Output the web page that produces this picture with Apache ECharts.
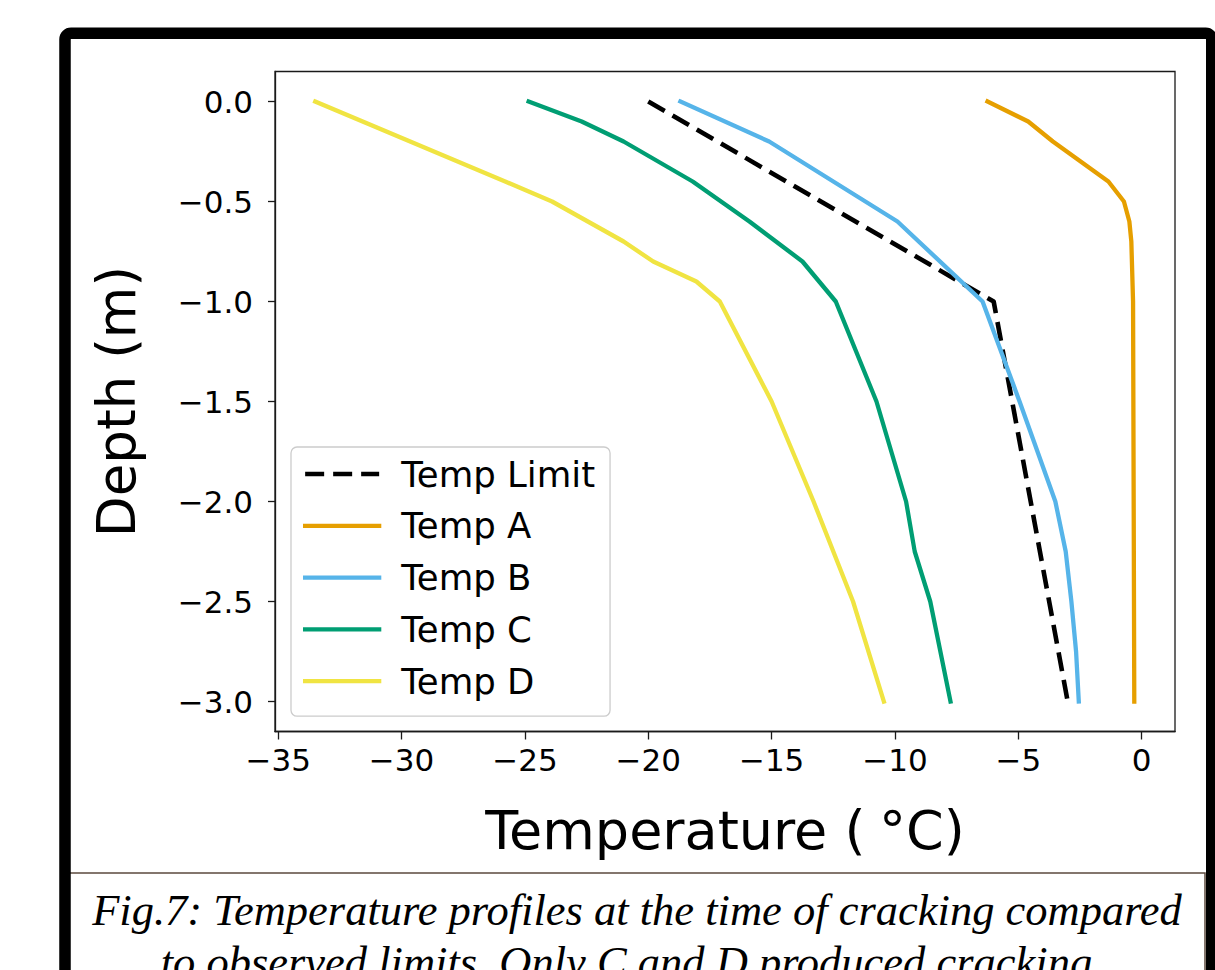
<!DOCTYPE html>
<html>
<head>
<meta charset="utf-8">
<script src="https://cdn.jsdelivr.net/npm/echarts@6/dist/echarts.min.js"></script>
<style>
html,body{margin:0;padding:0;background:#fff;}
#chart{width:1215px;height:970px;}
</style>
</head>
<body>
<div id="chart"></div>
<script>
// ---- data ----
const depths    = [0, -0.1, -0.2, -0.3, -0.4, -0.5, -0.6, -0.7, -0.8, -0.9, -1.0, -1.5, -2.0, -2.25, -2.5, -2.75, -3.0];
const tempLimit = [-20, null, null, null, null, null, null, null, null, null, -6, null, null, null, null, null, -3];
const tempA     = [-6.25, -4.6, -3.6, null, -1.35, -0.72, -0.5, -0.42, null, null, -0.35, null, null, null, null, null, -0.3];
const tempB     = [-18.7, null, -15.1, null, null, null, -9.9, null, null, null, -6.45, -4.95, -3.5, -3.08, -2.85, -2.66, -2.55];
const tempC     = [-24.85, -22.7, -21.0, null, -18.2, null, -15.9, null, -13.75, null, -12.4, -10.75, -9.55, -9.2, -8.57, null, -7.75];
const tempD     = [-33.5, null, null, null, -25.8, -23.9, null, -21.0, -19.8, -18.05, -17.1, -15.0, -13.3, null, -11.7, null, -10.45];
const seriesNames = ['Temp Limit', 'Temp A', 'Temp B', 'Temp C', 'Temp D'];
const xTicks = [-35, -30, -25, -20, -15, -10, -5, 0];
const yTicks = [0, -0.5, -1.0, -1.5, -2.0, -2.5, -3.0];
const xTitle = 'Temperature (\u2005°C)';
const yTitle = 'Depth (m)';
const captionLines = [
  'Fig.7: Temperature profiles at the time of cracking compared',
  'to observed limits. Only C and D produced cracking.'
];

function pairs(temps) {
  const out = [];
  temps.forEach((t, i) => { if (t !== null) out.push([t, depths[i]]); });
  return out;
}
const minus = s => s.replace('-', '\u2212');

const chart = echarts.init(document.getElementById('chart'), null, {renderer: 'svg'});
const font = 'DejaVu Sans';
const axisCol = '#1a1a1a';

function mkSeries(name, temps, color, dashed) {
  return {
    name: name,
    type: 'line',
    data: pairs(temps),
    symbol: 'none',
    showSymbol: false,
    silent: true,
    lineStyle: {
      color: color,
      width: dashed ? 4.6 : 4.3,
      type: dashed ? [19, 9] : 'solid',
      cap: dashed ? 'butt' : 'square',
      join: 'round'
    },
    itemStyle: {color: color}
  };
}

chart.setOption({
  animation: false,
  backgroundColor: '#fff',
  grid: {
    left: 275, top: 71.5, width: 900, height: 660,
    show: true, borderColor: axisCol, borderWidth: 1.3, backgroundColor: 'transparent'
  },
  xAxis: {
    type: 'value', min: -35.13, max: 1.35,
    name: xTitle, nameLocation: 'middle', nameGap: 72,
    nameTextStyle: {fontFamily: font, fontSize: 54, color: '#000'},
    axisLine: {show: true, onZero: false, lineStyle: {color: axisCol, width: 1.3}},
    axisTick: {show: true, length: 8, customValues: xTicks, lineStyle: {color: axisCol, width: 1.3}},
    axisLabel: {customValues: xTicks, margin: 13, fontFamily: font, fontSize: 31, color: '#000',
      formatter: v => minus(String(v))},
    splitLine: {show: false}
  },
  yAxis: {
    type: 'value', min: -3.15, max: 0.15,
    name: yTitle, nameLocation: 'middle', nameGap: 132,
    nameTextStyle: {fontFamily: font, fontSize: 53, color: '#000'},
    axisLine: {show: true, onZero: false, lineStyle: {color: axisCol, width: 1.3}},
    axisTick: {show: true, length: 7, customValues: yTicks, lineStyle: {color: axisCol, width: 1.3}},
    axisLabel: {customValues: yTicks, margin: 22, fontFamily: font, fontSize: 31, color: '#000',
      formatter: v => minus(Number(v).toFixed(1))},
    splitLine: {show: false}
  },
  legend: {
    orient: 'vertical', left: 291, top: 447,
    data: seriesNames,
    itemWidth: 74, itemHeight: 20, itemGap: 15.8,
    padding: [9, 15, 17, 12],
    backgroundColor: 'rgba(255,255,255,0.8)',
    borderColor: '#cccccc', borderWidth: 1.3, borderRadius: 6,
    itemStyle: {opacity: 0},
    lineStyle: {width: 4.3},
    textStyle: {fontFamily: font, fontSize: 35.5, color: '#000', padding: [0, 0, 0, 17]},
    selectedMode: false
  },
  series: [
    mkSeries(seriesNames[0], tempLimit, '#000000', true),
    mkSeries(seriesNames[1], tempA, '#E69F00', false),
    mkSeries(seriesNames[2], tempB, '#56B4E9', false),
    mkSeries(seriesNames[3], tempC, '#009E73', false),
    mkSeries(seriesNames[4], tempD, '#F0E442', false)
  ],
  graphic: [
    {type: 'rect', z: 100, silent: true,
     shape: {x: 65, y: 33.3, width: 1146.75, height: 1000, r: 6},
     style: {fill: 'none', stroke: '#000', lineWidth: 11.5}},
    {type: 'rect', z: 90, silent: true,
     shape: {x: 69, y: 873, width: 1136, height: 150},
     style: {fill: '#fff', stroke: '#5b4a3e', lineWidth: 1.5}},
    {type: 'text', z: 95, silent: true, x: 637, y: 910,
     style: {text: captionLines[0], fontFamily: 'Liberation Serif', fontStyle: 'italic', fontSize: 44.5,
             fill: '#000', textAlign: 'center', textVerticalAlign: 'middle'}},
    {type: 'text', z: 95, silent: true, x: 632, y: 962,
     style: {text: captionLines[1], fontFamily: 'Liberation Serif', fontStyle: 'italic', fontSize: 44.5,
             fill: '#000', textAlign: 'center', textVerticalAlign: 'middle'}}
  ]
});
</script>
</body>
</html>
